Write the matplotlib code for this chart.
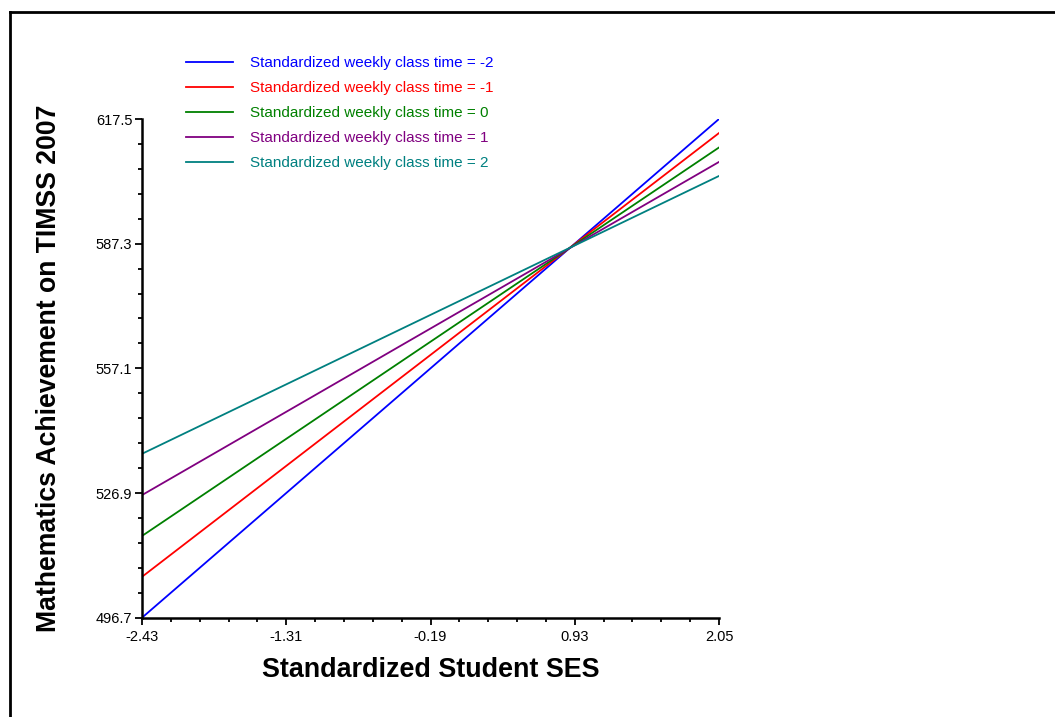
import matplotlib
matplotlib.use('Agg')
from matplotlib import pyplot as plt
from matplotlib.ticker import FixedLocator, AutoMinorLocator
from matplotlib.lines import Line2D

# data
ses_range = [-2.43, 2.05]
x_ticks = [-2.43, -1.31, -0.19, 0.93, 2.05]
y_ticks = [496.7, 526.9, 557.1, 587.3, 617.5]

time_m2 = [496.7, 617.5]
time_m1 = [506.6, 614.1]
time_0 = [516.5, 610.6]
time_p1 = [526.4, 607.1]
time_p2 = [536.4, 603.7]

series = [
    ('Standardized weekly class time = -2', time_m2, '#0000ff'),
    ('Standardized weekly class time = -1', time_m1, '#ff0000'),
    ('Standardized weekly class time = 0', time_0, '#008000'),
    ('Standardized weekly class time = 1', time_p1, '#800080'),
    ('Standardized weekly class time = 2', time_p2, '#008080'),
]

narrow = ['Liberation Sans Narrow', 'Liberation Sans', 'DejaVu Sans']
plain = ['Liberation Sans', 'DejaVu Sans']

fig = plt.figure(figsize=(10.55, 7.17), dpi=100)
ax = fig.add_axes([142 / 1055, 1 - 617.7 / 717, (719 - 142) / 1055, (617.7 - 119) / 717])

for label, vals, color in series:
    ax.plot(ses_range, vals, color=color, lw=1.3, label=label)

ax.set_xlim(ses_range[0], ses_range[1])
ax.set_ylim(y_ticks[0], y_ticks[-1])
ax.xaxis.set_major_locator(FixedLocator(x_ticks))
ax.yaxis.set_major_locator(FixedLocator(y_ticks))
ax.xaxis.set_minor_locator(AutoMinorLocator(5))
ax.yaxis.set_minor_locator(AutoMinorLocator(5))
ax.set_xticklabels(['%.2f' % v for v in x_ticks], family=narrow, fontsize=10.5)
ax.set_yticklabels(['%.1f' % v for v in y_ticks], family=narrow, fontsize=10.5)
ax.tick_params(which='major', direction='out', length=5, width=1.3, pad=2)
ax.tick_params(axis='x', which='major', pad=4)
ax.tick_params(which='minor', direction='out', length=3, width=1.3)

for side in ['top', 'right']:
    ax.spines[side].set_visible(False)
for side in ['left', 'bottom']:
    ax.spines[side].set_linewidth(1.8)

ax.set_xlabel('Standardized Student SES', family=plain, fontsize=19.4, fontweight='bold', labelpad=9)
ax.set_ylabel('Mathematics Achievement on TIMSS 2007', family=plain, fontsize=19.2, fontweight='bold', labelpad=24)

leg = ax.legend(loc='upper left', bbox_to_anchor=(186 / 1055, 1 - 56 / 717), bbox_transform=fig.transFigure,
                frameon=False, labelcolor='linecolor', handlelength=3.1, handletextpad=1.1,
                labelspacing=0.72, borderpad=0, borderaxespad=0,
                prop={'family': narrow, 'size': 11})

# partial frame round the figure (top and left edges only)
fig.add_artist(Line2D([10 / 1055, 1], [1 - 12 / 717, 1 - 12 / 717], transform=fig.transFigure, color='black', lw=2))
fig.add_artist(Line2D([10 / 1055, 10 / 1055], [0, 1 - 12 / 717], transform=fig.transFigure, color='black', lw=2))

fig.savefig('out.png', dpi=100)
